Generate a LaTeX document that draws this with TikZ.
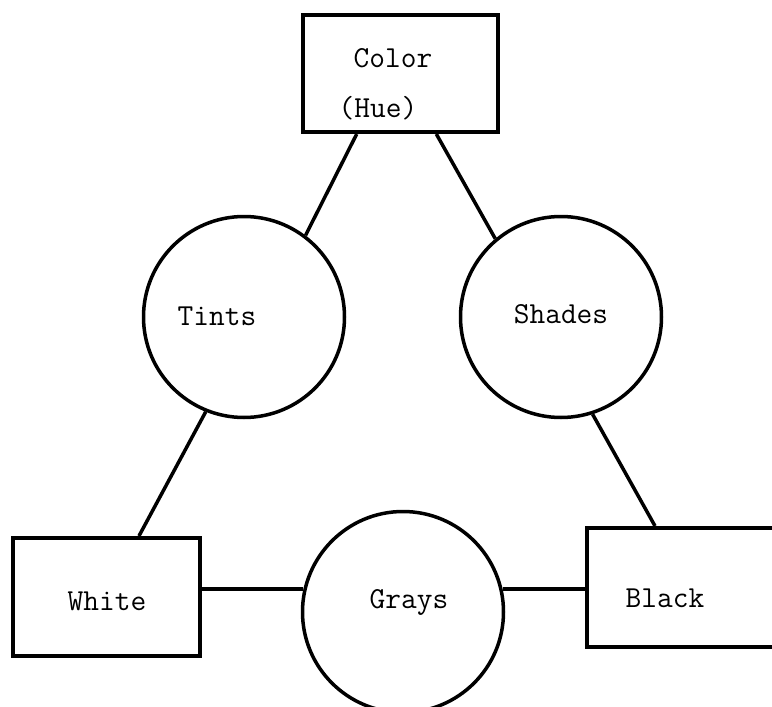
\documentclass[tikz,border=0pt]{standalone}
\usepackage{fontspec}
\usetikzlibrary{calc}
\begin{document}
\begin{tikzpicture}[x=1pt,y=-1pt,
  box/.style={draw,line width=4pt,rectangle,inner sep=0pt},
  disc/.style={draw,line width=3.5pt,circle,inner sep=0pt,minimum size=201pt},
  link/.style={line width=3.5pt},
  lbl/.style={font=\ttfamily\fontsize{30.5}{36}\selectfont,anchor=base,inner sep=0pt}]
\clip (0,0) rectangle (772,707);
\fill[white] (0,0) rectangle (772,707);
% boxes
\node[box,minimum width=195pt,minimum height=117pt] (color) at (400.5,73.5) {};
\node[box,minimum width=187pt,minimum height=118pt] (white) at (106.5,597) {};
\node[box,minimum width=223pt,minimum height=119pt] (black) at (698.5,587.5) {};
% circles
\node[disc] (tints) at (244,317) {};
\node[disc] (shades) at (561,317) {};
\node[disc] (grays) at (403,612) {};
% labels
\node[lbl] (tcolor) at (393,67) {Color};
\node[lbl] (thue) at (378,117) {(Hue)};
\node[lbl] (ttints) at (217,325) {Tints};
\node[lbl] (tshades) at (561,323) {Shades};
\node[lbl] (tgrays) at (409,608) {Grays};
\node[lbl] (twhite) at (107,610) {White};
\node[lbl] (tblack) at (665,607) {Black};
% connectors
\draw[link] ($(color.south west)!0.28!(color.south east)$) -- (tints.53);
\draw[link] ($(color.south west)!0.68!(color.south east)$) -- (shades.130);
\draw[link] (tints.248) -- ($(white.north west)!0.67!(white.north east)$);
\draw[link] (shades.288) -- ($(black.north west)+(70,0)$);
\draw[link] (white.east |- grays.167) -- (grays.167);
\draw[link] (grays.13) -- (grays.13 -| black.west);
\end{tikzpicture}
\end{document}
